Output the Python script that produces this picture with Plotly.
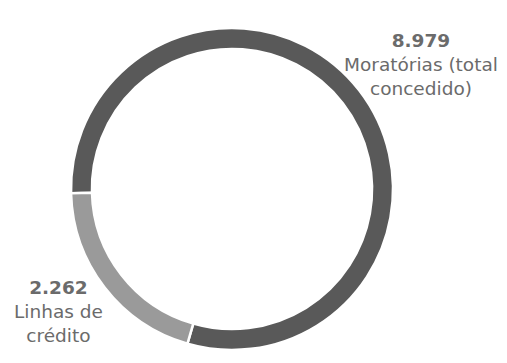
import plotly.graph_objects as go

labels = ["Moratórias (total concedido)", "Linhas de crédito"]
values = [8979, 2262]
value_text = ["8.979", "2.262"]
label_lines = [["Moratórias (total", "concedido)"], ["Linhas de", "crédito"]]
colors = ["#595959", "#9a9a9a"]

W, H = 507, 363
cx, cy, r = 232, 189, 161

fig = go.Figure(go.Pie(
    labels=labels, values=values, hole=0.87, sort=False,
    direction="clockwise", rotation=-91.5,
    marker=dict(colors=colors, line=dict(color="white", width=2.5)),
    textinfo="none", hoverinfo="label+value", showlegend=False,
    domain=dict(x=[(cx - r) / W, (cx + r) / W], y=[(H - cy - r) / H, (H - cy + r) / H]),
))

font_face = "DejaVu Sans"
txt_color = "#6b6b6b"
positions = [(421, 40), (58, 287)]
for (px, py), vt, lines in zip(positions, value_text, label_lines):
    text = "<b>" + vt + "</b><br>" + "<br>".join(lines)
    fig.add_annotation(
        x=px / W, y=1 - (py - 12) / H, xref="paper", yref="paper",
        xanchor="center", yanchor="top", showarrow=False, align="center",
        text=text, font=dict(family=font_face, size=18.5, color=txt_color),
    )

fig.update_layout(
    width=W, height=H, margin=dict(l=0, r=0, t=0, b=0),
    paper_bgcolor="white", plot_bgcolor="white",
)
fig.write_html("out.html", config={"displayModeBar": False},
               post_script="document.body.style.margin='0';")
